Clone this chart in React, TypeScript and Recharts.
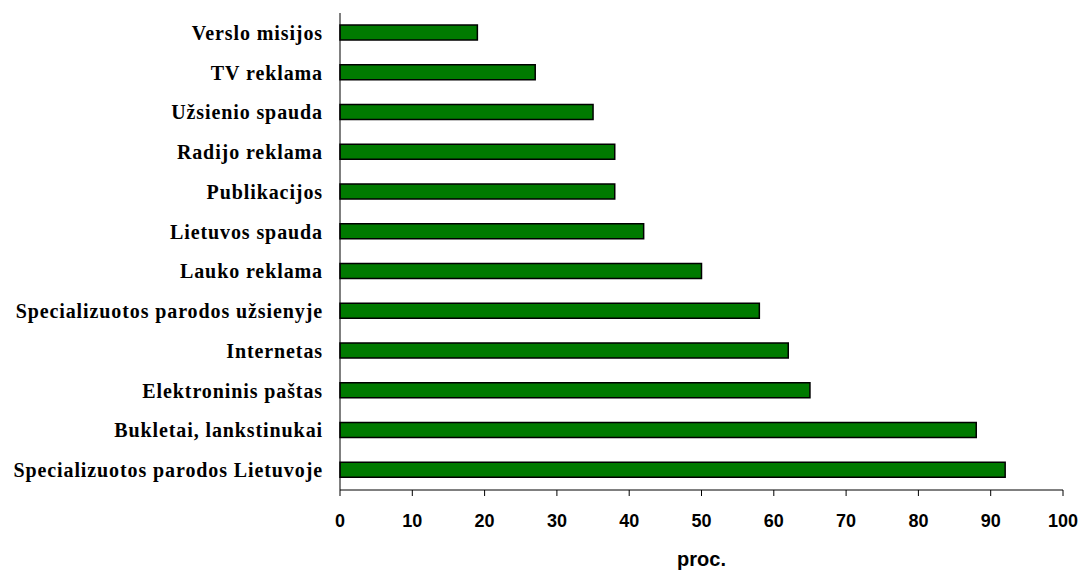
import React from 'react';
import { BarChart, Bar, XAxis, YAxis } from 'recharts';

// Advertising / promotion channels, top to bottom
const channels = [
  'Verslo misijos',
  'TV reklama',
  'Užsienio spauda',
  'Radijo reklama',
  'Publikacijos',
  'Lietuvos spauda',
  'Lauko reklama',
  'Specializuotos parodos užsienyje',
  'Internetas',
  'Elektroninis paštas',
  'Bukletai, lankstinukai',
  'Specializuotos parodos Lietuvoje',
];

// Share of respondents using each channel, %
const shares = [19, 27, 35, 38, 38, 42, 50, 58, 62, 65, 88, 92];

const xTicks = [0, 10, 20, 30, 40, 50, 60, 70, 80, 90, 100];

const data = channels.map((name, i) => ({ name, value: shares[i] }));

export default function App() {
  return (
    <div style={{ position: 'absolute', left: 0, top: 0, width: 1082, height: 571, background: '#fff' }}>
      <BarChart
        width={1082}
        height={571}
        data={data}
        layout="vertical"
        margin={{ top: 13, right: 19, left: 0, bottom: 0 }}
      >
        <XAxis
          type="number"
          domain={[0, 100]}
          ticks={xTicks}
          interval={0}
          height={81}
          stroke="#000"
          tickSize={6}
          tickMargin={18}
          tick={{ fill: '#000', fontFamily: 'Liberation Sans, Arial, sans-serif', fontWeight: 'bold', fontSize: 18 }}
          label={{
            value: 'proc.',
            position: 'insideBottom',
            offset: 5,
            fill: '#000',
            fontFamily: 'Liberation Sans, Arial, sans-serif',
            fontWeight: 'bold',
            fontSize: 20,
          }}
        />
        <YAxis
          type="category"
          dataKey="name"
          width={340}
          stroke="#000"
          tickLine={false}
          tickSize={0}
          tickMargin={17}
          interval={0}
          tick={{
            fill: '#000',
            fontFamily: 'Liberation Serif, Times New Roman, serif',
            fontWeight: 'bold',
            fontSize: 20,
            letterSpacing: 0.9,
          }}
        />
        <Bar
          dataKey="value"
          fill="#007A00"
          stroke="#000"
          strokeWidth={1.5}
          barSize={15}
          isAnimationActive={false}
        />
      </BarChart>
    </div>
  );
}
